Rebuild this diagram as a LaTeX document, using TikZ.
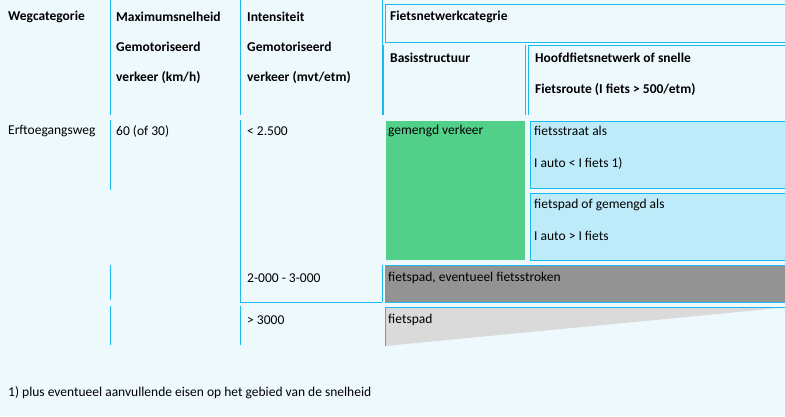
\documentclass[tikz,border=0pt]{standalone}
\usepackage{fontspec}
\setmainfont{Carlito}
\definecolor{bg}{HTML}{EEF9FE}
\definecolor{ln}{HTML}{1CB8EE}
\definecolor{grn}{HTML}{52D08A}
\definecolor{lb}{HTML}{BDEBFA}
\definecolor{dg}{HTML}{939393}
\definecolor{lg}{HTML}{DADADA}
\begin{document}
\begin{tikzpicture}[x=1pt,y=-1pt,
  txt/.style={anchor=west,inner sep=0pt,font=\fontsize{13.5}{15}\selectfont},
  hd/.style={txt,font=\fontsize{13.5}{15}\selectfont\bfseries},
  cell/.style={draw=ln,line width=1pt},
  vl/.style={draw=ln,line width=1pt}]
\fill[bg] (0,0) rectangle (785,416);
\useasboundingbox (0,0) rectangle (785,416);
% vertical lines
\draw[vl] (110,0) -- (110,115) (110,120) -- (110,190) (110,265) -- (110,300) (110,306) -- (110,345);
\draw[vl] (240,0) -- (240,115) (240,120) -- (240,302) (240,306) -- (240,345);
\draw[vl] (382,0) -- (382,115) (382,265) -- (382,302);
\draw[vl] (240,302) -- (382,302);
% header boxes
\draw[cell] (385,4) rectangle (790,42);
\draw[vl] (383,45) -- (383,115) (525,45) -- (525,115);
\draw[vl] (528,115) -- (528,45) -- (790,45);
% body cells
\fill[grn] (386,121) rectangle (525,260);
\draw[cell,fill=lb] (530,121) rectangle (790,188);
\draw[cell,fill=lb] (530,193) rectangle (790,260);
\draw[cell,fill=dg] (385,265) rectangle (790,302);
\draw[cell,fill=lg] (385,346) -- (385,307) -- (790,307);
% texts
\node[hd] (h1) at (8,17) {Wegcategorie};
\node[hd] (h2) at (116,17) {Maximumsnelheid};
\node[hd] (h2b) at (116,47) {Gemotoriseerd};
\node[hd] (h2c) at (116,78) {verkeer (km/h)};
\node[hd] (h3) at (247,17) {Intensiteit};
\node[hd] (h3b) at (247,47) {Gemotoriseerd};
\node[hd] (h3c) at (247,78) {verkeer (mvt/etm)};
\node[hd] (h4) at (390,17) {Fietsnetwerkcategrie};
\node[hd] (h5) at (390,58) {Basisstructuur};
\node[hd] (h6) at (535,58) {Hoofdfietsnetwerk of snelle};
\node[hd] (h6b) at (535,90) {Fietsroute (I fiets > 500/etm)};
\node[txt] (r1) at (8,131) {Erftoegangsweg};
\node[txt] (r2) at (116,131) {60 (of 30)};
\node[txt] (r3) at (247,131) {< 2.500};
\node[txt] (r4) at (388,131) {gemengd verkeer};
\node[txt] (r5) at (534,131) {fietsstraat als};
\node[txt] (r5b) at (534,163) {I auto < I fiets 1)};
\node[txt] (r6) at (534,205) {fietspad of gemengd als};
\node[txt] (r6b) at (534,236) {I auto > I fiets};
\node[txt] (s1) at (247,278) {2-000 - 3-000};
\node[txt] (s2) at (388,278) {fietspad, eventueel fietsstroken};
\node[txt] (t1) at (247,320) {> 3000};
\node[txt] (t2) at (388,320) {fietspad};
\node[txt] (fn) at (8,393) {1) plus eventueel aanvullende eisen op het gebied van de snelheid};
\end{tikzpicture}
\end{document}
